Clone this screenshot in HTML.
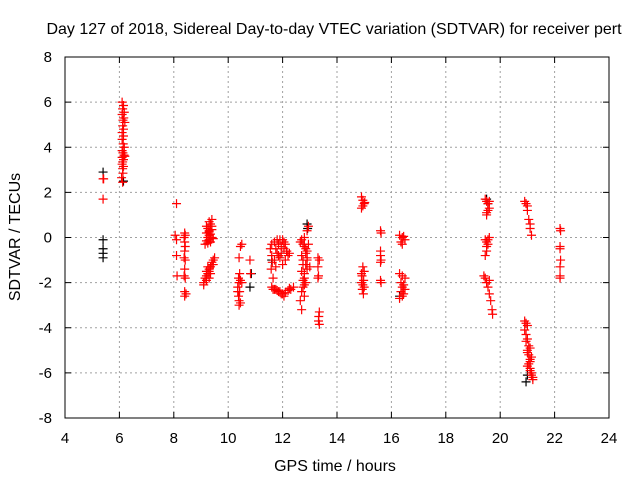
<!DOCTYPE html>
<html><head><meta charset="utf-8"><style>
body{margin:0;background:#fff}
svg{display:block;font-family:"Liberation Sans",sans-serif}
</style></head><body>
<svg id="c" width="640" height="480" viewBox="0 0 640 480">
<rect width="640" height="480" fill="#fff"/>
<text x="334" y="34" font-size="16" text-anchor="middle">Day 127 of 2018, Sidereal Day-to-day VTEC variation (SDTVAR) for receiver pert</text>
<g id="grid"></g>
<g id="ticks"></g>
<g id="blk"></g>
<g id="red"></g>
<rect x="65" y="57" width="544" height="361" fill="none" stroke="#000" stroke-width="1"/>
<text x="335" y="471" font-size="16" text-anchor="middle">GPS time / hours</text>
<text transform="translate(20,237) rotate(-90)" font-size="16" text-anchor="middle">SDTVAR / TECUs</text>
</svg>
<script>
const xTicks=[4,6,8,10,12,14,16,18,20,22,24];
const yTicks=[-8,-6,-4,-2,0,2,4,6,8];
const redTimes=[5.4,5.42,5.4,
6.1,6.15,6.12,6.18,6.1,6.16,6.13,6.2,6.12,6.1,6.15,6.1,6.14,6.18,6.1,6.13,6.17,6.1,6.15,6.12,6.1,6.15,6.12,6.13,6.08,6.2,6.12,6.15,
8.1,8.05,8.1,8.1,8.12,8.4,8.42,8.38,8.4,8.42,8.4,8.38,8.42,8.4,8.38,8.42,8.4,8.45,8.4,
9.2,9.3,9.35,9.4,9.25,9.3,9.4,9.2,9.3,9.35,9.25,9.4,9.3,9.2,9.45,9.15,9.35,9.3,9.25,9.4,
9.1,9.15,9.2,9.2,9.25,9.3,9.3,9.35,9.4,9.4,9.45,9.5,9.2,9.25,9.35,9.45,9.1,9.3,
10.45,10.5,10.4,10.42,10.38,10.45,10.4,10.35,10.42,10.38,10.4,10.45,10.4,10.5,10.35,10.8,10.82,
11.55,11.6,11.62,11.58,11.65,11.6,11.7,11.75,11.8,11.85,11.9,11.95,12.0,12.05,12.1,12.15,12.2,12.25,11.85,11.95,12.05,12.15,11.9,12.0,12.1,11.7,11.8,11.75,
11.6,11.7,11.8,11.9,12.0,12.1,12.2,12.3,12.4,11.65,11.85,12.05,12.25,11.75,11.95,
12.65,12.7,12.75,12.8,12.85,12.9,12.95,12.7,12.8,12.9,12.75,12.85,12.95,12.7,12.8,12.9,12.75,12.85,12.8,12.9,12.7,12.8,12.75,12.85,12.65,12.7,12.8,12.9,12.75,13.0,
13.3,13.35,13.3,13.32,13.3,13.35,13.33,13.32,13.35,
14.9,14.95,15.0,14.95,15.02,14.9,14.95,15.0,14.92,14.98,14.9,14.95,15.0,14.93,14.97,14.9,
15.6,15.62,15.6,15.6,15.62,15.6,15.6,15.62,
16.3,16.4,16.5,16.35,16.45,16.4,16.3,16.4,16.5,16.35,16.45,16.4,16.5,16.35,16.45,16.4,16.3,
19.45,19.5,19.55,19.6,19.5,19.55,19.6,19.45,19.5,19.55,19.6,19.5,19.55,19.45,19.5,19.4,19.45,19.5,19.55,19.6,19.65,19.7,19.72,19.5,19.6,
20.9,20.95,21.0,21.05,21.1,21.15,21.0,21.1,
20.9,20.95,20.9,21.0,20.95,21.0,21.05,20.95,21.0,21.05,21.1,21.0,21.05,21.1,21.15,21.1,21.15,21.2,21.1,21.15,21.2,21.0,21.1,
22.2,22.22,22.2,22.2,22.22,22.2,22.2,22.2];
const redValues=[2.6,2.6,1.7,
6.0,5.85,5.7,5.55,5.45,5.3,5.2,5.1,4.95,4.65,4.5,4.35,4.15,4.0,3.85,3.75,3.65,3.55,3.45,3.35,3.25,3.15,3.05,2.85,2.65,3.6,2.45,4.8,
1.5,0.1,-0.1,-0.8,-1.7,0.2,0.1,0.0,-0.2,-0.4,-0.6,-0.9,-1.0,-1.4,-1.7,-1.8,-2.4,-2.5,-2.6,
0.5,0.7,0.6,0.8,0.4,0.3,0.35,0.2,0.1,0.15,0.0,0.0,-0.1,-0.15,-0.05,-0.3,-0.2,0.25,-0.25,0.5,
-2.0,-1.8,-1.7,-1.9,-1.6,-1.5,-1.4,-1.3,-1.2,-1.1,-1.0,-0.9,-1.5,-1.3,-1.6,-1.2,-2.1,-1.8,
-0.4,-0.3,-0.9,-1.6,-1.8,-1.9,-2.0,-2.2,-2.4,-2.6,-2.8,-2.9,-3.0,-2.0,-2.4,-1.0,-1.6,
-0.5,-0.8,-1.1,-1.4,-1.8,-0.3,-0.2,-0.5,-0.1,-0.3,-0.1,-0.4,-0.1,-0.2,-0.3,-0.6,-0.8,-0.7,-0.8,-0.7,-0.5,-0.6,-0.9,-1.2,-1.0,-1.0,-0.7,-1.3,
-2.2,-2.3,-2.35,-2.4,-2.5,-2.45,-2.35,-2.3,-2.2,-2.3,-2.4,-2.6,-2.25,-2.3,-2.5,
-0.2,-0.1,-0.3,0.0,-0.5,0.3,0.5,-0.8,-0.4,-1.0,-1.2,-0.7,-0.3,-1.5,-1.8,-1.4,-1.9,-1.2,-2.1,-0.9,-2.4,-2.6,-2.2,-2.0,-2.8,-3.2,-1.6,-0.6,-1.0,-1.3,
-0.9,-1.0,-1.3,-1.7,-1.8,-3.3,-3.5,-3.7,-3.85,
1.8,1.65,1.5,1.4,1.55,1.3,-1.3,-1.5,-1.7,-1.9,-2.0,-2.1,-2.2,-2.3,-2.5,-1.6,
0.3,0.2,-0.6,-0.8,-1.0,-1.1,-1.9,-2.0,
0.1,0.0,-0.1,-0.2,0.05,-0.3,-1.6,-1.7,-1.8,-2.0,-2.1,-2.2,-2.3,-2.4,-2.5,-2.6,-2.7,
1.7,1.6,1.5,1.6,1.1,1.2,1.3,-0.1,-0.2,-0.3,0.0,-0.4,-0.1,-0.8,-0.6,-1.7,-1.8,-2.0,-2.2,-2.5,-2.8,-3.2,-3.4,1.0,-1.9,
1.6,1.5,1.2,0.8,0.6,0.1,1.4,0.4,
-3.7,-3.8,-4.1,-3.9,-4.3,-4.5,-4.8,-4.6,-5.0,-5.2,-5.4,-5.1,-5.6,-5.8,-5.3,-5.9,-6.0,-6.2,-5.5,-6.1,-6.3,-5.7,-4.9,
0.4,0.3,-0.4,-0.5,-1.0,-1.3,-1.7,-1.8];
const blackTimes=[5.4,5.4,5.4,5.4,5.4,10.8,10.85,12.9,12.92,19.5,19.55,20.95,21.0,16.3,11.6,6.15];
const blackValues=[2.9,-0.1,-0.5,-0.7,-0.9,-2.2,-1.6,0.6,0.4,1.7,1.5,-6.4,-6.1,-2.6,-1.0,2.5];
const X0=65,X1=609,Y0=418,Y1=57;
const sx=v=>X0+(v-4)/20*(X1-X0);
const sy=v=>Y0-(v+8)/16*(Y0-Y1);
const NS='http://www.w3.org/2000/svg';
function mk(tag,attrs,parent){const e=document.createElementNS(NS,tag);for(const k in attrs)e.setAttribute(k,attrs[k]);parent.appendChild(e);return e;}
const grid=document.getElementById('grid'),ticks=document.getElementById('ticks'),svg=document.getElementById('c');
xTicks.forEach(t=>{const x=sx(t);
 if(t>4&&t<24){const g=mk('line',{x1:x,x2:x,y1:Y0,y2:Y1,stroke:'#a0a0a0','stroke-dasharray':'2,3'},grid);
 
 }
 mk('line',{x1:x,x2:x,y1:Y0,y2:Y0-6,stroke:'#000'},ticks);mk('line',{x1:x,x2:x,y1:Y1,y2:Y1+6,stroke:'#000'},ticks);
 const l=mk('text',{x:x,y:Y0+25,'font-size':15,'text-anchor':'middle'},svg);l.textContent=t;
 
 });
yTicks.forEach(t=>{const y=sy(t);
 if(t>-8&&t<8){const g=mk('line',{x1:X0,x2:X1,y1:y,y2:y,stroke:'#a0a0a0','stroke-dasharray':'2,3'},grid);
 
 }
 mk('line',{x1:X0,x2:X0+6,y1:y,y2:y,stroke:'#000'},ticks);mk('line',{x1:X1,x2:X1-6,y1:y,y2:y,stroke:'#000'},ticks);
 const l=mk('text',{x:X0-13,y:y+5,'font-size':15,'text-anchor':'end'},svg);l.textContent=t;
 
 });
function plot(ts,vs,g,col,name){for(let i=0;i<ts.length;i++){const x=sx(ts[i]),y=sy(vs[i]);
 const p=mk('path',{d:`M${x-4.5} ${y}H${x+4.5}M${x} ${y-4.5}V${y+4.5}`,stroke:col,'stroke-width':1.2,fill:'none'},g);
 
 }}
plot(blackTimes,blackValues,document.getElementById('blk'),'#000','black-point');
plot(redTimes,redValues,document.getElementById('red'),'#f00','red-point');
</script>
</body></html>
